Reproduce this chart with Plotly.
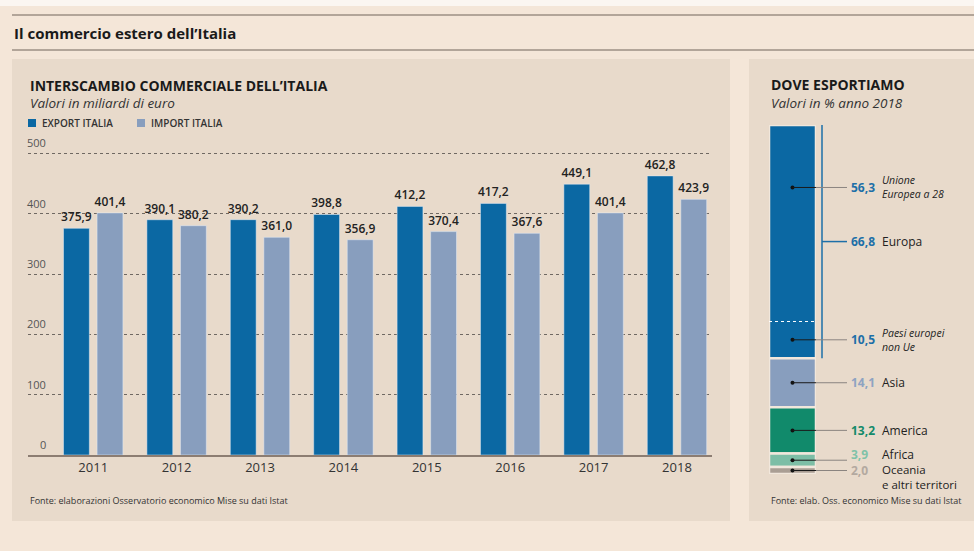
import plotly.graph_objects as go

# ---------------- data ----------------
years = ["2011", "2012", "2013", "2014", "2015", "2016", "2017", "2018"]
export_vals = [375.9, 390.1, 390.2, 398.8, 412.2, 417.2, 449.1, 462.8]
import_vals = [401.4, 380.2, 361.0, 356.9, 370.4, 367.6, 401.4, 423.9]
y_ticks = [0, 100, 200, 300, 400, 500]
y_tick_labels = ["0", "100", "200", "300", "400", "500"]

regions = ["Europa", "Asia", "America", "Africa", "Oceania<br>e altri territori"]
region_shares = [66.8, 14.1, 13.2, 3.9, 2.0]
europe_parts = ["Unione<br>Europea a 28", "Paesi europei<br>non Ue"]
europe_part_shares = [56.3, 10.5]

# ---------------- style ----------------
W, H = 974, 551
PAGE = "#f4e6d8"
PANEL = "#e8dacb"
EXPORT_C = "#0b68a3"
IMPORT_C = "#889ebe"
REGION_COLORS = ["#0b68a3", "#889ebe", "#118a6b", "#7dbea6", "#aa9e94"]
VALUE_COLORS = ["#1d6fa8", "#8ea3c2", "#138a6a", "#7fc2a8", "#b3a9a0"]
FONT = "Open Sans"
DARK = "#222222"


def px(x):
    return x / W


def py(y):
    return 1 - y / H


fig = go.Figure()

# ---------------- left: grouped bars ----------------
bar_text_font = dict(family=FONT, size=12, color=DARK, weight=600)
fig.add_trace(go.Bar(
    x=years, y=export_vals, name="EXPORT ITALIA", marker_color=EXPORT_C,
    texttemplate="%{y:.1f}", textposition="outside", constraintext="none",
    cliponaxis=False, textfont=bar_text_font, showlegend=False,
    xaxis="x", yaxis="y", hoverinfo="x+y"))
fig.add_trace(go.Bar(
    x=years, y=import_vals, name="IMPORT ITALIA", marker_color=IMPORT_C,
    texttemplate="%{y:.1f}", textposition="outside", constraintext="none",
    cliponaxis=False, textfont=bar_text_font, showlegend=False,
    xaxis="x", yaxis="y", hoverinfo="x+y"))

# ---------------- right: stacked share bar ----------------
bases = []
acc = 0.0
for s in region_shares:
    bases.append(acc)
    acc += s
for name, share, base, col in zip(regions, region_shares, bases, REGION_COLORS):
    fig.add_trace(go.Bar(
        x=[0], y=[share], base=[base], width=[1], offset=-0.5,
        marker=dict(color=col, line=dict(color="#f1e7dc", width=2.5)),
        xaxis="x2", yaxis="y2", showlegend=False, hoverinfo="skip"))

# label anchor positions (in % units along the bar)
eu_label_pos = 17.9
europa_mid = region_shares[0] / 2
noneu_mid = europe_part_shares[0] + europe_part_shares[1] / 2
region_mids = [b + s / 2 for b, s in zip(bases, region_shares)]
dot_positions = [eu_label_pos, noneu_mid] + region_mids[1:]
fig.add_trace(go.Scatter(
    x=[0] * len(dot_positions), y=dot_positions, mode="markers",
    marker=dict(size=4, color="#111111"), xaxis="x2", yaxis="y2",
    showlegend=False, hoverinfo="skip"))

shapes = []
annotations = []

# page decorations
shapes.append(dict(type="rect", xref="paper", yref="paper", x0=0, x1=1, y0=py(6), y1=1,
                   fillcolor="#fbf6f1", line=dict(width=0), layer="below"))
for yy in (15, 50):
    shapes.append(dict(type="line", xref="paper", yref="paper", x0=px(12), x1=1,
                       y0=py(yy), y1=py(yy), line=dict(color="#9c8f85", width=1.5)))
shapes.append(dict(type="rect", xref="paper", yref="paper", x0=px(12), x1=px(730),
                   y0=py(521), y1=py(59), fillcolor=PANEL, line=dict(width=0), layer="below"))
shapes.append(dict(type="rect", xref="paper", yref="paper", x0=px(749), x1=1,
                   y0=py(521), y1=py(59), fillcolor=PANEL, line=dict(width=0), layer="below"))

annotations.append(dict(text="<b>Il commercio estero dell’Italia</b>", xref="paper", yref="paper",
                        x=px(12), y=py(33), xanchor="left", yanchor="middle", showarrow=False,
                        font=dict(family=FONT, size=15, color="#1a1a1a")))

# left headings
annotations.append(dict(text="<b>INTERSCAMBIO COMMERCIALE DELL’ITALIA</b>", xref="paper", yref="paper",
                        x=px(28), y=py(85.5), xanchor="left", yanchor="middle", showarrow=False,
                        font=dict(family=FONT, size=14, color="#1a1a1a")))
annotations.append(dict(text="<i>Valori in miliardi di euro</i>", xref="paper", yref="paper",
                        x=px(28), y=py(102.5), xanchor="left", yanchor="middle", showarrow=False,
                        font=dict(family=FONT, size=13.5, color="#333333")))
# legend
for lx, col, txt in ((28, EXPORT_C, "EXPORT ITALIA"), (137, IMPORT_C, "IMPORT ITALIA")):
    shapes.append(dict(type="rect", xref="paper", yref="paper", x0=px(lx), x1=px(lx + 8),
                       y0=py(127), y1=py(119), fillcolor=col, line=dict(width=0)))
    annotations.append(dict(text=txt, xref="paper", yref="paper", x=px(lx + 12), y=py(123),
                            xanchor="left", yanchor="middle", showarrow=False,
                            font=dict(family=FONT, size=10, color="#333333", weight=600)))

# y tick labels (above gridlines)
for v, t in zip(y_ticks, y_tick_labels):
    annotations.append(dict(text=t, xref="paper", yref="y", x=px(48), y=v,
                            xanchor="right", yanchor="bottom", yshift=1, showarrow=False,
                            font=dict(family=FONT, size=11, color="#555555")))

annotations.append(dict(text="Fonte: elaborazioni Osservatorio economico Mise su dati Istat",
                        xref="paper", yref="paper", x=px(28), y=py(500), xanchor="left",
                        yanchor="middle", showarrow=False,
                        font=dict(family=FONT, size=9, color="#333333")))

# right headings
annotations.append(dict(text="<b>DOVE ESPORTIAMO</b>", xref="paper", yref="paper",
                        x=px(769), y=py(84.5), xanchor="left", yanchor="middle", showarrow=False,
                        font=dict(family=FONT, size=14, color="#1a1a1a")))
annotations.append(dict(text="<i>Valori in % anno 2018</i>", xref="paper", yref="paper",
                        x=px(769), y=py(102.5), xanchor="left", yanchor="middle", showarrow=False,
                        font=dict(family=FONT, size=13.5, color="#333333")))
annotations.append(dict(text="Fonte: elab. Oss. economico Mise su dati Istat",
                        xref="paper", yref="paper", x=px(769), y=py(500), xanchor="left",
                        yanchor="middle", showarrow=False,
                        font=dict(family=FONT, size=9, color="#333333")))

# dotted separator EU / non-EU
shapes.append(dict(type="line", xref="x2", yref="y2", x0=-0.5, x1=0.5,
                   y0=europe_part_shares[0], y1=europe_part_shares[0],
                   line=dict(color="#ffffff", width=1, dash="dot")))
# Europe bracket
shapes.append(dict(type="line", xref="paper", yref="y2", x0=px(822), x1=px(822),
                   y0=0, y1=region_shares[0], line=dict(color="#1d6fa8", width=1.5)))
shapes.append(dict(type="line", xref="paper", yref="y2", x0=px(822), x1=px(847),
                   y0=europa_mid, y1=europa_mid, line=dict(color="#1d6fa8", width=1.5)))

BAR_C = px(792.5)
BAR_R = px(816)
LINE_END = px(847)
VAL_X = px(849)
NAME_X = px(880)

label_items = [
    # (pos, value, value colour, name, italic, name size, yshift)
    (eu_label_pos, europe_part_shares[0], VALUE_COLORS[0], europe_parts[0], True, 10.5, 0),
    (noneu_mid, europe_part_shares[1], VALUE_COLORS[0], europe_parts[1], True, 10.5, 0),
    (region_mids[1], region_shares[1], VALUE_COLORS[1], regions[1], False, 12, 0),
    (region_mids[2], region_shares[2], VALUE_COLORS[2], regions[2], False, 12, 0),
    (region_mids[3], region_shares[3], VALUE_COLORS[3], regions[3], False, 12, 6),
    (region_mids[4], region_shares[4], VALUE_COLORS[4], regions[4], False, 11.5, -6),
]
for pos, val, vcol, name, ital, nsize, ysh in label_items:
    shapes.append(dict(type="line", xref="paper", yref="y2", x0=BAR_C, x1=BAR_R,
                       y0=pos, y1=pos, line=dict(color="#1a1a1a", width=1)))
    shapes.append(dict(type="line", xref="paper", yref="y2", x0=BAR_R, x1=LINE_END,
                       y0=pos, y1=pos, line=dict(color="#8a8480", width=1)))
    vtxt = ("%.1f" % val).replace(".", ",")
    annotations.append(dict(text="<b>%s</b>" % vtxt, xref="paper", yref="y2", x=VAL_X, y=pos,
                            xanchor="left", yanchor="middle", yshift=ysh if ysh > 0 else 0,
                            showarrow=False,
                            font=dict(family=FONT, size=12, color=vcol)))
    ntxt = "<i>%s</i>" % name if ital else name
    annotations.append(dict(text=ntxt, xref="paper", yref="y2", x=NAME_X, y=pos,
                            xanchor="left", yanchor="middle", yshift=ysh, showarrow=False,
                            align="left",
                            font=dict(family=FONT, size=nsize, color=DARK)))

# Europa label
annotations.append(dict(text="<b>%s</b>" % ("%.1f" % region_shares[0]).replace(".", ","),
                        xref="paper", yref="y2", x=VAL_X, y=europa_mid, xanchor="left",
                        yanchor="middle", showarrow=False,
                        font=dict(family=FONT, size=12, color=VALUE_COLORS[0])))
annotations.append(dict(text=regions[0], xref="paper", yref="y2", x=NAME_X, y=europa_mid,
                        xanchor="left", yanchor="middle", showarrow=False,
                        font=dict(family=FONT, size=12, color=DARK)))

fig.update_layout(
    width=W, height=H, margin=dict(l=0, r=0, t=0, b=0),
    paper_bgcolor=PAGE, plot_bgcolor="rgba(0,0,0,0)",
    separators=",.",
    barmode="group", bargap=0.195, bargroupgap=0.23,
    font=dict(family=FONT, color=DARK),
    showlegend=False,
    xaxis=dict(domain=[px(28), px(712)], type="category", range=[-0.782, 7.42],
               showline=True, linecolor="#8c7d72", linewidth=1.5, ticks="",
               showgrid=False, zeroline=False,
               tickfont=dict(family=FONT, size=13, color="#333333"), fixedrange=True),
    yaxis=dict(domain=[py(455), py(141.4)], range=[0, 520], tickvals=y_ticks[1:],
               showticklabels=False, showgrid=True, gridcolor="#6f6862", gridwidth=1,
               griddash="dot", zeroline=False, showline=False, fixedrange=True),
    xaxis2=dict(domain=[px(769), px(816)], range=[-0.5, 0.5], visible=False,
                anchor="y2", fixedrange=True),
    yaxis2=dict(domain=[py(474), py(125)], range=[100, 0], visible=False,
                anchor="x2", fixedrange=True),
    shapes=shapes, annotations=annotations,
)

fig.write_html("out.html", config={"displayModeBar": False},
               post_script="document.body.style.margin='0';document.body.style.overflow='hidden';")
